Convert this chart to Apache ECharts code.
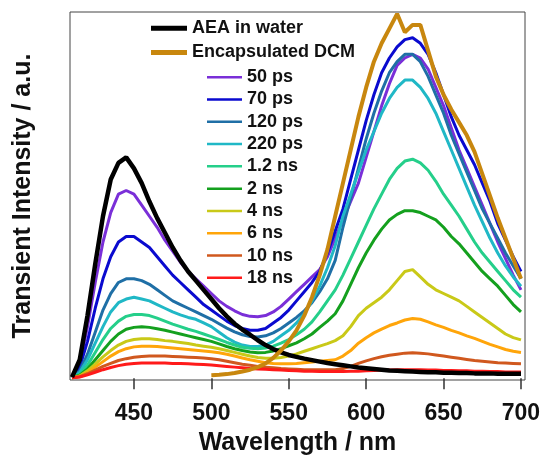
<!DOCTYPE html>
<html>
<head>
<meta charset="utf-8">
<script src="https://cdn.jsdelivr.net/npm/echarts@6/dist/echarts.min.js"></script>
<style>
  html, body { margin: 0; padding: 0; background: #fff; }
  #chart { width: 544px; height: 455px; }
</style>
</head>
<body>
<div id="chart"></div>
<script>
  // wavelength grid (nm)
  const wavelength = [
    410, 415, 420, 425, 430, 435, 440, 445, 450, 455, 460, 465, 470, 475, 480,
    485, 490, 495, 500, 505, 510, 515, 520, 525, 530, 535, 540, 545, 550, 555,
    560, 565, 570, 575, 580, 585, 590, 595, 600, 605, 610, 615, 620, 625, 630,
    635, 640, 645, 650, 655, 660, 665, 670, 675, 680, 685, 690, 695, 700
  ];
  const xTicks = [450, 500, 550, 600, 650, 700];

  const aeaWater = [
    0.3, 5, 17, 31, 44, 54, 58.5, 60, 57, 53, 48, 43.5, 39.5, 35.5, 32,
    29, 26.5, 24, 21.5, 19, 16.8, 14.8, 13.2, 11.8, 10.3, 9, 7.9, 7, 6.3, 5.8,
    5.3, 4.9, 4.5, 4.1, 3.8, 3.5, 3.2, 2.9, 2.7, 2.5, 2.3, 2.1, 2, 1.9, 1.8,
    1.7, 1.6, 1.6, 1.5, 1.5, 1.4, 1.4, 1.3, 1.3, 1.3, 1.2, 1.2, 1.2, 1.2
  ];
  const dcm = [
    null, null, null, null, null, null, null, null, null, null, null, null, null, null, null,
    null, null, null, 0.8, 0.9, 1.1, 1.4, 1.8, 2.3, 3, 4, 5.5, 7.5, 10, 13,
    17, 22, 28, 35, 44, 53, 62, 71, 79, 86, 91, 95, 99, 94, 96,
    96, 89, 82, 77, 73, 69.5, 66, 61.5, 55.5, 49.5, 43.5, 38, 32.5, 27
  ];
  const ps50 = [
    0.3, 4, 14, 26, 37, 45, 50, 51, 50, 47, 44, 41, 37.5, 34.5, 31.5,
    29, 27, 25, 23, 21, 19.5, 18.3, 17.3, 16.8, 16.7, 17, 18, 19.5, 21.5, 23.5,
    25.5, 27.5, 29.5, 33, 38, 43, 48, 53, 60, 67, 74, 80, 85, 87, 88,
    87, 84, 79, 74, 68, 62, 57, 52, 47, 42, 37, 32.5, 28, 24
  ];
  const ps70 = [
    0.2, 3, 10, 19, 27, 33, 37, 38.5, 38.5, 37, 35.5, 33, 30.5, 28, 26,
    24, 22, 20, 18.5, 17, 15.5, 14.3, 13.5, 13, 13, 13.5, 15, 16.5, 18.5, 21,
    23.5, 26, 29, 34, 40, 46, 54, 62, 70, 77, 83, 87, 90, 92, 92.5,
    91, 88, 83, 77, 71, 66, 62, 58, 53, 48, 42, 37.5, 33, 29
  ];
  const ps120 = [
    0.2, 2, 6.5, 12.5, 18.5, 23, 26, 27, 27, 26.5, 25.5, 24, 22.5, 21, 20,
    19, 18, 17, 16, 14.8, 13.6, 12.6, 11.8, 11.3, 11.2, 11.5, 12.3, 13.5, 15, 16.5,
    18.3, 20.5, 23.5, 27, 32, 41, 49, 57, 65, 72, 78, 83, 86, 88, 88,
    86, 82, 77, 72, 66, 61, 56, 51, 46, 42, 38, 34, 30.5, 27
  ];
  const ps220 = [
    0.2, 1.5, 5, 9.5, 14, 18, 20.5, 21.5, 22, 21.5, 21, 20, 19, 18, 17.2,
    16.5, 16, 15, 14, 12.5, 11, 9.8, 9, 8.6, 8.6, 9, 10, 11.5, 13, 15,
    17.5, 21, 25, 30, 36, 44, 50, 56, 62, 67, 72, 76, 79, 81, 81,
    79, 76, 72, 67, 62, 57, 52, 47, 42.5, 38, 34, 30.5, 27.5, 25
  ];
  const ns1p2 = [
    0.1, 1, 3.5, 7, 10.5, 13.5, 15.5, 16.8, 17.3, 17.3, 17, 16.3, 15.5, 14.7, 14,
    13.3, 12.7, 12, 11.3, 10.5, 9.7, 9, 8.4, 8.1, 8, 8.2, 8.7, 9.5, 10.5, 11.8,
    13.3, 15.3, 18, 21, 24, 28, 32.5, 37, 41.5, 46, 50, 54, 57, 59, 59.5,
    58.5, 56.5, 53.5, 50, 47, 44, 40.5, 37, 34, 31.5, 29, 26.5, 24, 22
  ];
  const ns2 = [
    0.1, 0.8, 2.5, 5, 7.5, 10, 12, 13.3, 13.8, 14, 13.8, 13.4, 13, 12.5, 12,
    11.5, 11, 10.5, 10, 9.3, 8.6, 8, 7.5, 7.1, 6.9, 7, 7.4, 8, 8.8, 9.6,
    10.7, 12, 13.8, 15.5, 17.5, 21, 25.5, 30, 34, 37.5, 40.5, 43, 44.5, 45.5, 45.5,
    45, 44, 43, 41, 38.5, 36.5, 34, 31.5, 29, 27, 25, 22.5, 20, 18
  ];
  const ns4 = [
    0.1, 0.6, 2, 3.8, 5.8, 7.5, 9, 10, 10.5, 10.7, 10.7, 10.5, 10.2, 10, 9.7,
    9.4, 9, 8.7, 8.4, 8, 7.5, 7, 6.5, 6, 5.6, 5.4, 5.4, 5.6, 6, 6.6,
    7.3, 8, 8.7, 9.4, 10.2, 11.5, 14, 17, 19, 20.5, 22, 24, 26.5, 29, 29.5,
    27.5, 25.5, 24, 23, 22, 21, 19.5, 18, 16.5, 15, 13.5, 12, 11, 10.4
  ];
  const ns6 = [
    0.1, 0.5, 1.5, 3, 4.5, 6, 7.2, 8, 8.5, 8.7, 8.7, 8.6, 8.4, 8.2, 8,
    7.8, 7.6, 7.4, 7.2, 6.9, 6.5, 6, 5.5, 5, 4.6, 4.2, 4, 3.9, 3.9, 4,
    4.2, 4.4, 4.6, 4.8, 5, 6, 7.5, 9.5, 11, 12.3, 13.3, 14.3, 15, 15.8, 16.2,
    16, 15.3, 14.5, 13.8, 13, 12.3, 11.5, 10.8, 10, 9.2, 8.5, 7.8, 7.3, 7
  ];
  const ns10 = [
    0.1, 0.4, 1.2, 2.2, 3.2, 4, 4.8, 5.3, 5.7, 5.9, 6, 6, 6, 5.9, 5.8,
    5.7, 5.6, 5.5, 5.3, 5, 4.6, 4.2, 3.8, 3.5, 3.2, 3, 2.8, 2.6, 2.5, 2.4,
    2.3, 2.3, 2.3, 2.3, 2.3, 2.6, 3.2, 4, 4.7, 5.3, 5.8, 6.2, 6.5, 6.8, 6.9,
    6.8, 6.6, 6.3, 6, 5.7, 5.4, 5.1, 4.8, 4.6, 4.4, 4.2, 4.1, 4, 3.9
  ];
  const ns18 = [
    0.1, 0.3, 0.9, 1.6, 2.3, 2.9, 3.4, 3.8, 4, 4.1, 4.1, 4.1, 4.1, 4, 4,
    3.9, 3.8, 3.7, 3.6, 3.4, 3.2, 3, 2.8, 2.6, 2.5, 2.4, 2.3, 2.2, 2.1, 2,
    1.9, 1.9, 1.8, 1.8, 1.8, 1.8, 1.9, 1.9, 2, 2.1, 2.2, 2.2, 2.3, 2.3, 2.3,
    2.3, 2.2, 2.2, 2.1, 2.1, 2, 2, 1.9, 1.9, 1.8, 1.8, 1.7, 1.7, 1.7
  ];

  const fontFamily = "'Liberation Sans', Arial, sans-serif";

  // [name, values, color, line width, z]
  const curves = [
    ["50 ps", ps50, "#7a2fd8", 3, 2],
    ["70 ps", ps70, "#0a0acf", 3, 2],
    ["120 ps", ps120, "#1f6fa6", 3, 2],
    ["220 ps", ps220, "#20b8c6", 3, 2],
    ["1.2 ns", ns1p2, "#25cf8a", 3, 2],
    ["2 ns", ns2, "#14a01e", 3, 2],
    ["4 ns", ns4, "#c9c918", 3, 2],
    ["6 ns", ns6, "#ffa50a", 3, 2],
    ["10 ns", ns10, "#d0581e", 3, 2],
    ["18 ns", ns18, "#ff1a1a", 3, 2],
    ["AEA in water", aeaWater, "#000000", 4.5, 4],
    ["Encapsulated DCM", dcm, "#c8870e", 4, 5],
  ];

  const series = curves.map(function(c) {
    return {
      name: c[0],
      type: "line",
      data: wavelength
        .map(function(w, i) { return [w, c[1][i]]; })
        .filter(function(p) { return p[1] !== null; }),
      showSymbol: false,
      symbol: "none",
      z: c[4],
      color: c[2],
      lineStyle: { color: c[2], width: c[3] },
    };
  });

  const legendText = {
    fontFamily: fontFamily,
    fontSize: 18,
    fontWeight: "bold",
    color: "#111",
  };

  let chart = echarts.init(document.getElementById("chart"));
  chart.setOption({
    animation: false,
    backgroundColor: "#fff",
    grid: {
      left: 70,
      right: 19,
      top: 12,
      bottom: 75,
      outerBoundsMode: "none",
      show: true,
      borderColor: "#444",
      borderWidth: 1,
      backgroundColor: "transparent",
    },
    legend: [
      {
        data: ["AEA in water", "Encapsulated DCM"],
        orient: "vertical",
        left: 146,
        top: 11,
        itemWidth: 36,
        itemHeight: 5,
        itemGap: 0,
        icon: "rect",
        selectedMode: false,
        textStyle: Object.assign({ lineHeight: 24.3 }, legendText),
      },
      {
        data: curves.slice(0, 10).map(function(c) { return c[0]; }),
        orient: "vertical",
        left: 202,
        top: 61,
        itemWidth: 35,
        itemHeight: 2.5,
        itemGap: 0,
        icon: "rect",
        selectedMode: false,
        textStyle: Object.assign({ lineHeight: 22.3 }, legendText),
      },
    ],
    xAxis: {
      type: "value",
      min: 408.7,
      max: 702.6,
      axisLine: { show: false },
      splitLine: { show: false },
      axisTick: {
        show: true,
        inside: false,
        length: 11,
        customValues: xTicks,
        lineStyle: { color: "#333", width: 1.5 },
      },
      axisLabel: {
        customValues: xTicks,
        margin: 22,
        fontFamily: fontFamily,
        fontSize: 23,
        fontWeight: "bold",
        color: "#111",
      },
      name: "Wavelength / nm",
      nameLocation: "middle",
      nameGap: 51,
      nameTextStyle: {
        fontFamily: fontFamily,
        fontSize: 25,
        fontWeight: "bold",
        color: "#111",
      },
    },
    yAxis: {
      type: "value",
      min: -0.5,
      max: 99.5,
      axisLine: { show: false },
      axisTick: { show: false },
      axisLabel: { show: false },
      splitLine: { show: false },
      name: "Transient Intensity / a.u.",
      nameLocation: "middle",
      nameGap: 34,
      nameTextStyle: {
        fontFamily: fontFamily,
        fontSize: 25,
        fontWeight: "bold",
        color: "#111",
      },
    },
    series: series,
  });
</script>
</body>
</html>
